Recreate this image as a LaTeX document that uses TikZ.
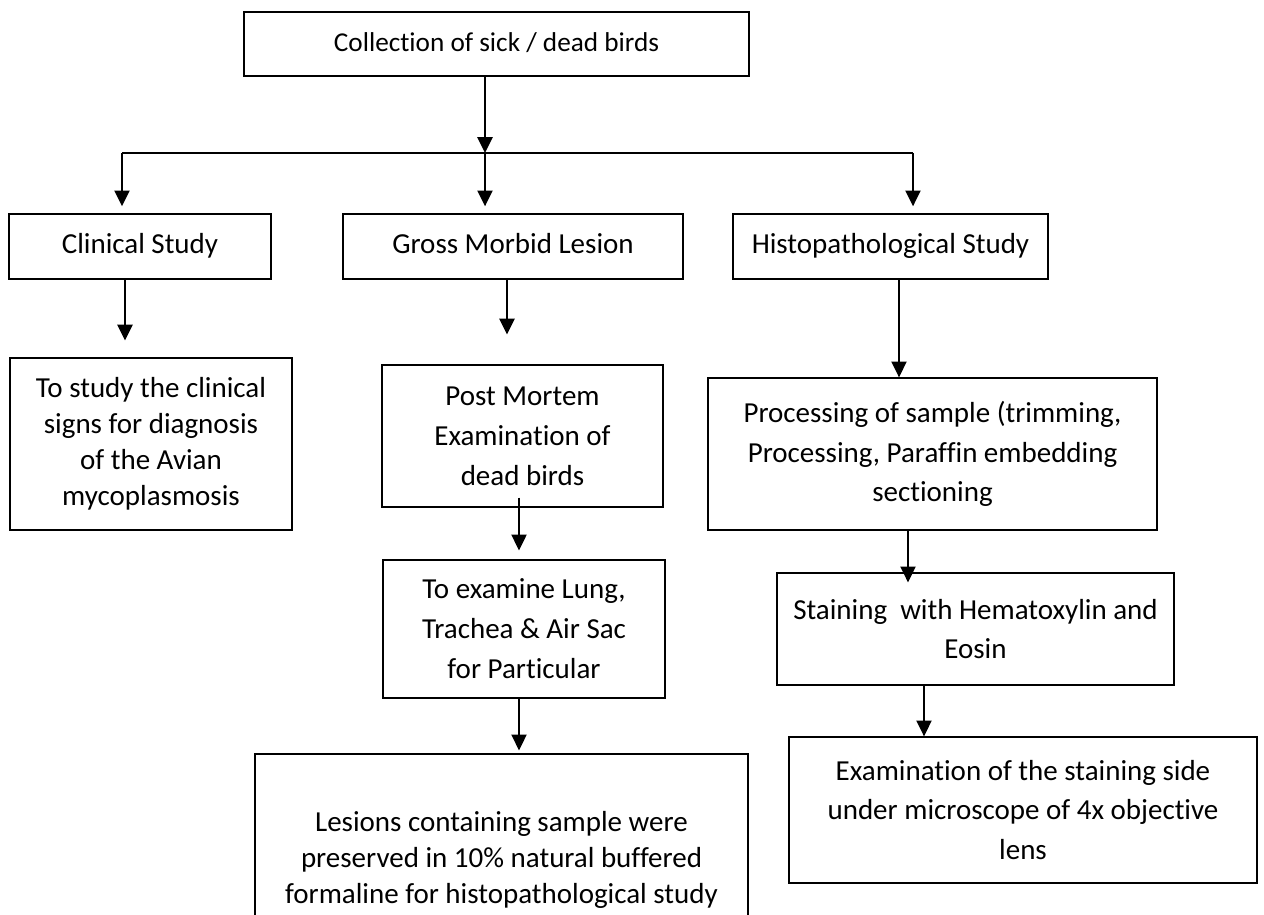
\documentclass[tikz,border=0pt]{standalone}
\usepackage{fontspec}
\setmainfont{Carlito}[Ligatures=NoCommon]
\usetikzlibrary{arrows.meta}

\begin{document}
\begin{tikzpicture}[
    x=0.02cm, y=-0.02cm,
    box/.style={draw=black, line width=0.75pt, inner sep=0pt, align=center,
      font=\fontsize{16.5}{22.7}\selectfont},
    head/.style={text height=12.5pt, text depth=4pt},
    tight/.style={font=\fontsize{16.5}{20.4}\selectfont},
    link/.style={-{Triangle[length=9pt,width=8.6pt]}, line width=1.1pt},
    bus/.style={line width=1.1pt}
  ]
    \useasboundingbox (0,0) rectangle (1264,915);

    % top level
    \node[box, head, font=\fontsize{15.5}{20}\selectfont, minimum width=10.1cm, minimum height=1.28cm] (collect) at (496.5,44)
      {Collection of sick / dead birds};

    % three branches
    \node[box, head, minimum width=5.24cm, minimum height=1.3cm] (clinical) at (140,246.5)
      {Clinical Study};
    \node[box, head, minimum width=6.8cm, minimum height=1.3cm] (gross) at (513,246.5)
      {Gross Morbid Lesion};
    \node[box, head, minimum width=6.3cm, minimum height=1.3cm] (histo) at (890.5,246.5)
      {Histopathological Study};

    % clinical column
    \node[box, tight, minimum width=5.64cm, minimum height=3.44cm] (signs) at (151,444)
      {To study the clinical\\ signs for diagnosis\\ of the Avian\\ mycoplasmosis};

    % gross lesion column
    \node[box, minimum width=5.62cm, minimum height=2.84cm] (postmortem) at (522.5,436)
      {Post Mortem\\ Examination of\\ dead birds};
    \node[box, minimum width=5.64cm, minimum height=2.76cm] (examine) at (524,629)
      {To examine Lung,\\ Trachea \& Air Sac\\ for Particular};
    \node[box, tight, minimum width=9.86cm, minimum height=4.24cm] (lesions) at (501.5,860)
      {Lesions containing sample were\\ preserved in 10\% natural buffered\\ formaline for histopathological study};

    % histopathology column
    \node[box, minimum width=8.98cm, minimum height=3.04cm] (processing) at (932.5,454)
      {Processing of sample (trimming,\\ Processing, Paraffin embedding\\ sectioning};
    \node[box, minimum width=7.94cm, minimum height=2.24cm] (staining) at (975.5,629)
      {Staining\ \ with Hematoxylin and\\ Eosin};
    \node[box, minimum width=9.36cm, minimum height=2.92cm] (exam) at (1023,810)
      {Examination of the staining side\\ under microscope of 4x objective\\ lens};

    % arrow columns
    \coordinate (hub) at (485,153);
    \coordinate (left) at (122,153);
    \coordinate (right) at (913,153);
    \coordinate (colA) at (125,0);
    \coordinate (colB) at (507,0);
    \coordinate (colC) at (519,0);
    \coordinate (colD) at (899,0);
    \coordinate (colE) at (908,0);
    \coordinate (colF) at (924,0);

    \draw[link] (collect.south -| hub) -- (hub);
    \draw[bus] (left) -- (right);
    \draw[link, shorten >=4pt] (left) -- (left |- clinical.north);
    \draw[link, shorten >=4pt] (hub) -- (hub |- gross.north);
    \draw[link, shorten >=4pt] (right) -- (right |- histo.north);

    \draw[link, shorten >=9.6pt] (clinical.south -| colA) -- (signs.north -| colA);
    \draw[link, shorten >=17pt] (gross.south -| colB) -- (postmortem.north -| colB);
    \draw[link, shorten <=-5.7pt, shorten >=5.1pt] (postmortem.south -| colC) -- (examine.north -| colC);
    \draw[link, shorten >=1.7pt] (examine.south -| colC) -- (lesions.north -| colC);
    \draw[link] (histo.south -| colD) -- (processing.north -| colD);
    \draw[link, shorten >=-5.7pt] (processing.south -| colE) -- (staining.north -| colE);
    \draw[link] (staining.south -| colF) -- (exam.north -| colF);
\end{tikzpicture}
\end{document}
